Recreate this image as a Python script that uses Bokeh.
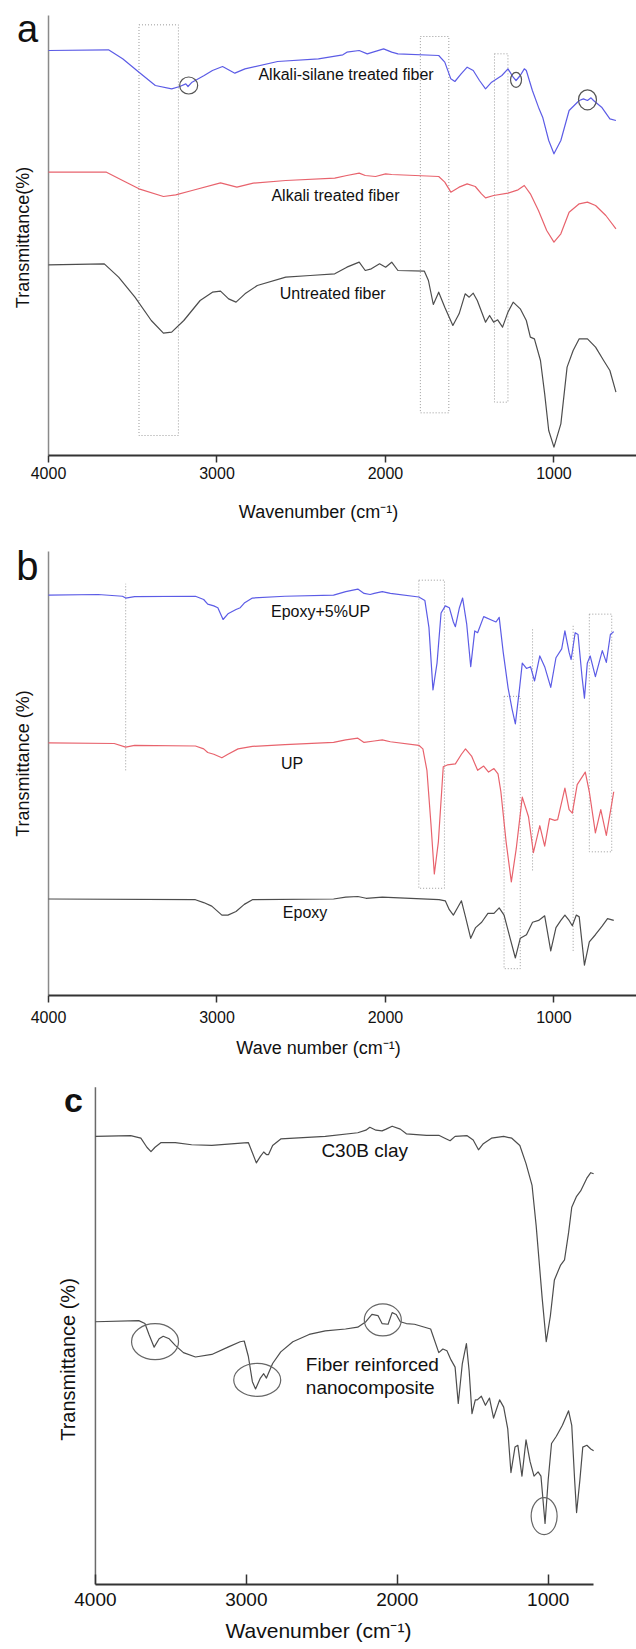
import math
from bokeh.plotting import figure
from bokeh.models import Range1d, FixedTicker
from bokeh.layouts import column
from bokeh.core.properties import value
from bokeh.embed import file_html
from bokeh.resources import INLINE

FONT = "Liberation Sans"
TICKS = [4000, 3000, 2000, 1000]

# ---------------- Panel a data (wavenumber cm-1, transmittance a.u.) ----------------
a_silane_wn = [4000, 3644, 3560, 3463, 3366, 3269, 3221, 3185, 3172, 3148, 3076, 3027, 2967, 2894, 2834,
               2640, 2398, 2253, 2229, 2156, 2108, 2011, 1963, 1926, 1684, 1648, 1612, 1588, 1551, 1515,
               1479, 1442, 1406, 1370, 1309, 1273, 1242, 1225, 1200, 1176, 1164, 1128, 1092, 1067, 1031,
               1000, 959, 910, 850, 825, 801, 780, 765, 717, 668, 632]
a_silane_t = [121.5, 121.7, 119.0, 115.0, 111.0, 110.0, 110.7, 111.5, 110.7, 112.0, 114.0, 115.5, 116.7, 114.7, 116.0,
              118.2, 119.0, 120.2, 121.0, 121.5, 120.5, 122.0, 121.0, 120.5, 120.0, 118.0, 113.0, 112.2, 114.5, 116.5,
              115.5, 112.5, 110.0, 112.0, 114.0, 116.0, 113.5, 112.5, 114.0, 116.0, 115.5, 109.5, 104.5, 101.5, 94.5,
              90.5, 94.5, 103.5, 106.5, 107.0, 106.5, 107.3, 106.5, 104.5, 101.0, 100.5]

a_alkali_wn = [4000, 3656, 3560, 3463, 3318, 3245, 3148, 2979, 2882, 2785, 2592, 2301, 2229, 2156, 2120,
               2059, 1999, 1963, 1684, 1648, 1612, 1563, 1515, 1467, 1430, 1406, 1358, 1273, 1213, 1176,
               1140, 1092, 1043, 1000, 959, 910, 850, 801, 753, 692, 632]
a_alkali_t = [85.0, 85.0, 82.5, 80.0, 77.7, 78.2, 79.5, 81.8, 80.5, 81.7, 82.5, 83.2, 84.0, 84.7, 84.0,
              83.7, 84.5, 84.3, 83.7, 82.0, 79.0, 80.5, 81.5, 80.7, 78.5, 77.3, 78.0, 78.7, 79.7, 81.0,
              78.5, 73.5, 67.5, 64.0, 66.5, 73.0, 75.5, 76.0, 75.0, 72.0, 68.0]

a_untreated_wn = [4000, 3669, 3584, 3487, 3390, 3318, 3269, 3197, 3100, 3027, 2979, 2931, 2887, 2834, 2761,
                  2592, 2447, 2301, 2229, 2156, 2120, 2084, 2035, 1999, 1963, 1926, 1769, 1745, 1716, 1684,
                  1648, 1600, 1563, 1527, 1503, 1479, 1455, 1406, 1382, 1358, 1334, 1305, 1273, 1242, 1200,
                  1164, 1140, 1116, 1080, 1055, 1031, 1000, 959, 922, 886, 850, 801, 753, 705, 668, 632]
a_untreated_t = [57.2, 57.5, 53.5, 47.5, 40.5, 36.7, 37.0, 40.5, 46.5, 49.0, 49.3, 47.0, 46.0, 48.5, 51.0,
                 53.5, 54.0, 54.5, 56.5, 58.0, 55.5, 56.0, 57.5, 56.5, 58.0, 55.5, 55.3, 52.5, 45.3, 49.0,
                 44.5, 39.0, 42.5, 48.5, 47.5, 48.7, 46.5, 40.0, 42.0, 40.0, 40.7, 38.5, 43.0, 46.0, 44.0,
                 40.5, 35.5, 35.0, 28.5, 18.5, 7.5, 2.5, 9.5, 26.5, 31.5, 35.0, 35.0, 32.5, 28.5, 25.5, 19.0]

a_box_left = [3463, 1793, 1353]
a_box_right = [3229, 1624, 1273]
a_box_top = [129.2, 125.7, 120.5]
a_box_bottom = [6.0, 12.8, 16.0]
a_circ_wn = [3168, 1225, 801]
a_circ_t = [111.0, 112.7, 106.7]
a_circ_w = [18, 11, 18]
a_circ_h = [17, 15, 20]
a_text = ["Alkali-silane treated fiber", "Alkali treated fiber", "Untreated fiber"]
a_text_wn = [2234, 2297, 2313]
a_text_t = [114.3, 78.0, 48.7]

# ---------------- Panel b data ----------------
b_blend_wn = [4000, 3706, 3561, 3542, 3489, 3128, 3079, 3055, 3019, 2995, 2964, 2935, 2887, 2862, 2838,
              2790, 2597, 2308, 2236, 2164, 2127, 2091, 2067, 2019, 1971, 1802, 1766, 1742, 1718, 1694,
              1670, 1645, 1621, 1597, 1585, 1561, 1542, 1518, 1494, 1470, 1453, 1417, 1368, 1344, 1325,
              1301, 1272, 1248, 1229, 1204, 1188, 1163, 1139, 1115, 1084, 1055, 1019, 988, 954, 935,
              910, 898, 874, 857, 833, 819, 802, 785, 754, 713, 689, 665, 645]
b_blend_t = [112.0, 112.2, 111.7, 111.2, 111.6, 111.7, 110.8, 109.5, 109.0, 108.5, 105.2, 106.8, 108.0, 108.5, 109.8,
             111.2, 111.7, 112.0, 113.0, 113.7, 112.5, 112.2, 112.5, 113.0, 112.5, 111.5, 110.5, 103.0, 85.5, 93.0,
             107.0, 109.0, 108.5, 104.5, 103.2, 108.5, 111.2, 104.0, 92.0, 102.0, 101.5, 106.0, 105.0, 104.5, 105.8,
             96.0, 86.0, 80.0, 76.0, 86.0, 93.0, 91.5, 92.0, 88.0, 95.0, 92.0, 86.2, 94.5, 97.0, 102.0,
             96.0, 94.0, 101.5, 101.0, 89.0, 83.2, 93.0, 95.0, 89.2, 96.5, 93.2, 101.0, 101.8]

b_up_wn = [4000, 3610, 3542, 3489, 3128, 3079, 3055, 3019, 2971, 2935, 2875, 2790, 2597, 2308, 2236,
           2164, 2127, 2067, 2019, 1971, 1802, 1778, 1754, 1730, 1710, 1686, 1657, 1633, 1585, 1549,
           1525, 1489, 1453, 1417, 1388, 1356, 1332, 1315, 1284, 1253, 1224, 1188, 1151, 1122, 1084,
           1055, 1026, 995, 978, 935, 910, 891, 862, 814, 790, 754, 722, 689, 645]
b_up_t = [70.7, 70.5, 69.5, 70.0, 69.8, 69.0, 68.0, 67.5, 66.5, 67.5, 69.0, 69.7, 70.2, 70.8, 71.5,
          72.0, 70.8, 71.2, 71.5, 71.0, 70.0, 69.0, 63.0, 48.0, 34.0, 43.0, 64.0, 64.5, 64.8, 67.5,
          69.0, 67.0, 63.0, 64.2, 62.5, 63.5, 62.0, 57.0, 43.0, 31.8, 41.0, 55.5, 50.0, 40.0, 47.5,
          41.8, 49.5, 49.0, 49.2, 58.0, 52.0, 51.0, 59.0, 62.5, 57.0, 45.5, 52.0, 44.8, 57.0]

b_epoxy_wn = [4000, 3128, 3079, 3031, 2971, 2935, 2887, 2838, 2790, 2308, 2236, 2164, 2115, 2019, 1682,
              1645, 1621, 1597, 1573, 1549, 1525, 1494, 1465, 1429, 1392, 1356, 1325, 1296, 1260, 1229,
              1200, 1163, 1127, 1091, 1055, 1019, 988, 959, 935, 910, 891, 867, 850, 819, 790,
              754, 713, 682, 645]
b_epoxy_t = [27.0, 26.8, 26.0, 25.0, 22.5, 22.5, 23.5, 25.5, 26.8, 27.0, 27.5, 27.7, 27.2, 27.5, 26.8,
             26.5, 24.0, 22.5, 24.5, 26.5, 22.0, 16.0, 19.0, 20.5, 23.0, 23.0, 24.5, 22.5, 16.0, 10.5,
             16.0, 17.0, 20.5, 21.0, 22.3, 12.5, 19.0, 21.0, 22.5, 21.0, 19.5, 22.5, 22.0, 8.5, 15.0,
             17.0, 19.5, 21.5, 21.0]

b_box_left = [1802, 1296, 790]
b_box_right = [1650, 1200, 657]
b_box_top = [116.2, 83.7, 106.7]
b_box_bottom = [30.0, 7.5, 40.2]
b_vline_wn = [3542, 1127, 886]
b_vline_top = [115.2, 103.0, 103.5]
b_vline_bottom = [63.0, 35.0, 12.5]
b_text = ["Epoxy+5%UP", "UP", "Epoxy"]
b_text_wn = [2385, 2554, 2477]
b_text_t = [107.5, 65.0, 23.3]

# ---------------- Panel c data ----------------
c_clay_wn = [4000, 3766, 3699, 3659, 3632, 3605, 3565, 3471, 3363, 3229, 3014, 2987, 2960, 2934, 2907,
             2885, 2867, 2853, 2826, 2772, 2477, 2262, 2208, 2182, 2141, 2101, 2074, 2034, 1980, 1940,
             1806, 1725, 1685, 1650, 1617, 1537, 1497, 1462, 1430, 1376, 1295, 1241, 1188, 1147, 1107,
             1080, 1040, 1013, 986, 959, 919, 892, 865, 844, 812, 785, 744, 718, 699]
c_clay_t = [123.3, 123.5, 122.8, 120.3, 119.1, 120.3, 121.6, 121.6, 121.0, 120.8, 121.5, 121.6, 118.8, 116.0, 117.8,
            119.0, 118.3, 118.3, 120.8, 122.6, 123.3, 124.3, 125.0, 125.8, 125.0, 124.8, 125.3, 126.1, 125.3, 124.0,
            123.6, 123.6, 122.8, 122.1, 123.3, 123.5, 122.3, 119.6, 121.3, 122.8, 123.3, 122.8, 120.8, 115.8, 109.8,
            98.8, 78.8, 66.8, 73.8, 83.8, 87.8, 89.3, 96.8, 103.8, 106.8, 108.3, 111.8, 113.3, 113.0]

c_nano_wn = [4000, 3713, 3672, 3645, 3611, 3578, 3551, 3511, 3471, 3417, 3337, 3229, 3122, 3041, 3014,
             2987, 2960, 2939, 2907, 2885, 2867, 2826, 2772, 2692, 2584, 2477, 2343, 2262, 2208, 2168,
             2128, 2101, 2061, 2034, 2007, 1980, 1940, 1886, 1779, 1725, 1698, 1671, 1644, 1617, 1596,
             1569, 1542, 1524, 1505, 1483, 1470, 1443, 1416, 1389, 1362, 1322, 1295, 1268, 1247, 1220,
             1201, 1174, 1147, 1120, 1094, 1067, 1048, 1021, 1000, 978, 946, 906, 865, 844, 825,
             812, 790, 771, 744, 718, 699]
c_nano_t = [72.3, 72.6, 71.8, 68.8, 65.3, 67.6, 68.3, 67.6, 65.8, 63.8, 62.6, 63.3, 65.3, 66.8, 67.0,
            62.8, 55.8, 53.8, 56.8, 58.0, 56.8, 60.8, 64.0, 66.8, 68.8, 69.8, 70.3, 70.8, 72.3, 74.3,
            74.0, 71.8, 71.6, 74.8, 74.3, 72.3, 71.8, 71.6, 70.3, 63.8, 64.8, 64.3, 61.8, 59.8, 49.8,
            60.8, 66.3, 58.8, 47.0, 50.8, 50.8, 51.8, 49.3, 51.3, 45.8, 50.8, 48.8, 42.8, 30.8, 37.8,
            38.3, 29.8, 39.8, 33.8, 29.8, 31.0, 29.8, 16.8, 28.8, 38.8, 40.8, 43.8, 47.8, 43.8, 28.8,
            19.8, 28.8, 37.8, 38.3, 37.3, 36.8]

c_ell_wn = [3605, 2928, 2096, 1027]
c_ell_t = [66.8, 56.3, 72.8, 18.8]
c_ell_w = [47, 47, 37, 26]
c_ell_h = [36, 33, 32, 37]

BLUE = "#5c5ce6"
RED = "#e8636d"
DARK = "#4d4d4d"
DOT = "#9a9a9a"


def base_panel(height, bottom, xr, yr, axis_top, yaxis_color, xlabel, tick_font, title_font,
               tick_in, tick_out, label_standoff, title_standoff):
    p = figure(width=636, height=height, x_range=Range1d(*xr), y_range=Range1d(*yr),
               output_backend="svg", toolbar_location=None, tools="")
    p.min_border_left = 0
    p.min_border_right = 0
    p.min_border_top = 0
    p.min_border_bottom = bottom
    p.outline_line_color = None
    p.xgrid.visible = False
    p.ygrid.visible = False
    p.yaxis.visible = False
    p.background_fill_color = "white"
    p.border_fill_color = "white"
    # y axis drawn as a bare line at the first tick (4000 cm-1)
    p.segment(x0=[TICKS[0]], y0=[yr[0]], x1=[TICKS[0]], y1=[axis_top],
              line_color=yaxis_color, line_width=1.5)
    ax = p.xaxis[0]
    ax.bounds = (xr[1], TICKS[0])
    ax.ticker = FixedTicker(ticks=TICKS)
    ax.minor_tick_line_color = None
    ax.major_tick_in = tick_in
    ax.major_tick_out = tick_out
    ax.major_tick_line_width = 1.5
    ax.major_tick_line_color = "#333333"
    ax.axis_line_color = "#333333"
    ax.axis_line_width = 2
    ax.major_label_text_font = FONT
    ax.major_label_text_font_size = tick_font
    ax.major_label_text_color = "#111111"
    ax.major_label_standoff = label_standoff
    ax.axis_label = xlabel
    ax.axis_label_text_font = FONT
    ax.axis_label_text_font_size = title_font
    ax.axis_label_text_font_style = "normal"
    ax.axis_label_text_color = "#111111"
    ax.axis_label_standoff = title_standoff
    return p


def add_text(p, x, y, texts, size, align="center", angle=0.0, style="normal"):
    p.text(x=x, y=y, text=texts, angle=angle, text_font=value(FONT), text_font_size=value(size),
           text_font_style=style, text_align=align, text_baseline="middle", text_color="#111111")


def add_line(p, x, y, color):
    p.line(x, y, line_color=color, line_width=1.2, line_join="round")


# ---------------- Panel a ----------------
pa = base_panel(530, 75, (4285, 510), (0, 136.5), 132, "#8a8a8a", "Wavenumber (cm\u207b\u00b9)",
                "16px", "18px", 0, 7, 4, 20)
pa.quad(left=a_box_left, right=a_box_right, top=a_box_top, bottom=a_box_bottom,
        fill_color=None, line_color=DOT, line_dash="1 2", line_width=1)
add_line(pa, a_silane_wn, a_silane_t, BLUE)
add_line(pa, a_alkali_wn, a_alkali_t, RED)
add_line(pa, a_untreated_wn, a_untreated_t, DARK)
pa.ellipse(x=a_circ_wn, y=a_circ_t, width=a_circ_w, height=a_circ_h,
           width_units="screen", height_units="screen",
           fill_color=None, line_color="#555555", line_width=1.2)
add_text(pa, a_text_wn, a_text_t, a_text, "16px")
add_text(pa, [4125], [128.1], ["a"], "38px")
add_text(pa, [4154], [65.4], ["Transmittance(%)"], "18px", angle=math.pi / 2)

# ---------------- Panel b ----------------
pb = base_panel(535, 70, (4285, 510), (0, 130.1), 124.2, "#8a8a8a", "Wave number (cm\u207b\u00b9)",
                "16px", "18px", 0, 7, 8, 12)
pb.quad(left=b_box_left, right=b_box_right, top=b_box_top, bottom=b_box_bottom,
        fill_color=None, line_color=DOT, line_dash="1 2", line_width=1)
pb.segment(x0=b_vline_wn, y0=b_vline_bottom, x1=b_vline_wn, y1=b_vline_top,
           line_color=DOT, line_dash="1 2", line_width=1)
add_line(pb, b_blend_wn, b_blend_t, BLUE)
add_line(pb, b_up_wn, b_up_t, RED)
add_line(pb, b_epoxy_wn, b_epoxy_t, DARK)
add_text(pb, b_text_wn, b_text_t, b_text, "16px")
add_text(pb, [4125], [120.3], ["b"], "40px")
add_text(pb, [4154], [64.9], ["Transmittance (%)"], "18px", angle=math.pi / 2)

# ---------------- Panel c ----------------
pc = base_panel(584, 65, (4629, 415), (0, 142.8), 136.8, "#6a6a6a", "Wavenumber (cm\u207b\u00b9)",
                "19px", "21px", 10, 0, 8, 10)
pc.xaxis[0].bounds = (700, 4000)
add_line(pc, c_clay_wn, c_clay_t, DARK)
add_line(pc, c_nano_wn, c_nano_t, DARK)
pc.ellipse(x=c_ell_wn, y=c_ell_t, width=c_ell_w, height=c_ell_h,
           width_units="screen", height_units="screen",
           fill_color=None, line_color="#666666", line_width=1.2)
add_text(pc, [2216], [119.3], ["C30B clay"], "19px")
add_text(pc, [2606, 2606], [60.5, 54.3], ["Fiber reinforced", "nanocomposite"], "19px", align="left")
add_text(pc, [4146], [133.2], ["c"], "34px", style="bold")
add_text(pc, [4185], [61.9], ["Transmittance (%)"], "20px", angle=math.pi / 2)

layout = column(pa, pb, pc, spacing=0)
open("out.html", "w").write(file_html(layout, INLINE))
